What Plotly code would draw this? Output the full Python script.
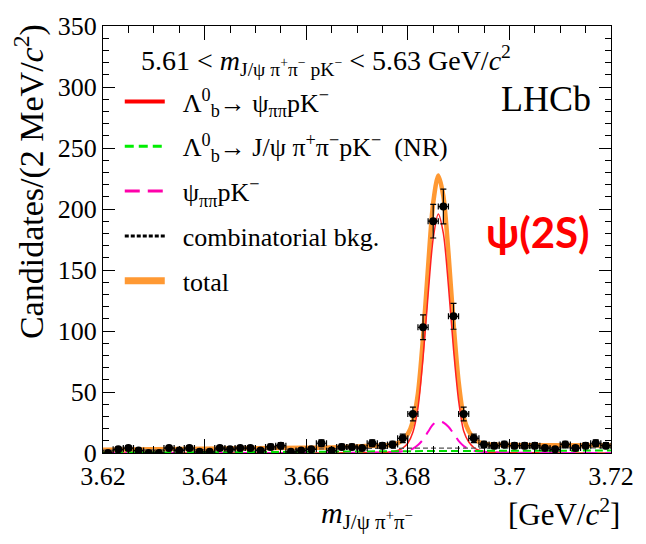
import numpy as np
import plotly.graph_objects as go

# ---------------- data ----------------
bin_centers = [3.621, 3.623, 3.625, 3.627, 3.629, 3.631, 3.633, 3.635, 3.637, 3.639,
               3.641, 3.643, 3.645, 3.647, 3.649, 3.651, 3.653, 3.655, 3.657, 3.659,
               3.661, 3.663, 3.665, 3.667, 3.669, 3.671, 3.673, 3.675, 3.677, 3.679,
               3.681, 3.683, 3.685, 3.687, 3.689, 3.691, 3.693, 3.695, 3.697, 3.699,
               3.701, 3.703, 3.705, 3.707, 3.709, 3.711, 3.713, 3.715, 3.717, 3.719]
counts = [0, 3, 4, 2, 0, 0, 4, 2, 4, 1,
          1, 4, 3, 4, 4, 2, 5, 6, 1, 2,
          3, 8, 2, 5, 5, 4, 8, 6, 7, 12,
          32, 103, 190, 202, 112, 32, 12, 7, 6, 7,
          6, 6, 6, 4, 3, 7, 4, 6, 8, 6]
bin_half_width = 0.001

# fit curves, read at these masses
curve_mass = [3.620, 3.630, 3.640, 3.650, 3.660, 3.665, 3.670, 3.674, 3.676, 3.678,
              3.679, 3.680, 3.681, 3.682, 3.683, 3.684, 3.685, 3.686, 3.687, 3.688,
              3.689, 3.690, 3.691, 3.692, 3.693, 3.694, 3.696, 3.698, 3.700, 3.705,
              3.710, 3.720]
signal_curve = [0, 0, 0, 0, 0.05, 0.1, 0.3, 0.5, 0.6, 2.0,
                4.0, 8.0, 17, 37, 78, 130, 176, 196, 180, 137,
                85, 43, 18, 9.0, 4.5, 2.2, 0.7, 0.5, 0.3, 0.2,
                0.1, 0.05]
psipipk_curve = [0, 0, 0, 0, 0.05, 0.1, 0.2, 0.4, 0.6, 0.9,
                 1.4, 2.2, 3.6, 6.5, 11, 17.5, 23.5, 26, 25, 21.5,
                 16, 10, 5.8, 3.2, 1.8, 1.2, 0.6, 0.4, 0.3, 0.2,
                 0.1, 0.05]
total_curve = [2.6, 3.0, 3.4, 3.85, 4.3, 4.55, 5.35, 6.0, 6.35, 8.15,
               10.75, 15.6, 26, 49, 94.5, 153, 205, 227.5, 210.5, 164,
               106.5, 58.6, 29.4, 17.8, 12.0, 9.0, 7.0, 6.7, 6.5, 6.4,
               6.3, 6.2]
bkg_mass = [3.62, 3.64, 3.66, 3.68, 3.70, 3.72]
comb_curve = [2.3, 2.8, 3.3, 3.9, 4.1, 4.2]
nr_curve = [0.3, 0.6, 1.0, 1.5, 1.8, 2.0]

x_tickvals = [3.62, 3.64, 3.66, 3.68, 3.70, 3.72]
x_ticktext = ["3.62", "3.64", "3.66", "3.68", "3.7", "3.72"]

legend_names = [
    "\u00a0\u00a0Λ<sup>0</sup><sub>b</sub>→ ψ<sub>ππ</sub>pK<sup>−</sup>",
    "\u00a0\u00a0Λ<sup>0</sup><sub>b</sub>→ J/ψ π<sup>+</sup>π<sup>−</sup>pK<sup>−</sup>  (NR)",
    "\u00a0\u00a0ψ<sub>ππ</sub>pK<sup>−</sup>",
    "\u00a0\u00a0combinatorial bkg.",
    "\u00a0\u00a0total",
]

SERIF = "Liberation Serif, Times New Roman, serif"

fig = go.Figure()

# curves
fig.add_trace(go.Scatter(x=curve_mass, y=total_curve, mode="lines", showlegend=False,
                         line=dict(color="#ff9933", width=4.5, shape="spline", smoothing=0.8)))
fig.add_trace(go.Scatter(x=curve_mass, y=signal_curve, mode="lines", showlegend=False,
                         line=dict(color="#ff2020", width=1.5, shape="spline", smoothing=0.8)))
fig.add_trace(go.Scatter(x=curve_mass, y=psipipk_curve, mode="lines", showlegend=False,
                         line=dict(color="#ff00cc", width=2, dash="14px,8px", shape="spline", smoothing=0.8)))
fig.add_trace(go.Scatter(x=bkg_mass, y=comb_curve, mode="lines", showlegend=False,
                         line=dict(color="#555555", width=1.3, dash="5px,3px", shape="spline")))
fig.add_trace(go.Scatter(x=bkg_mass, y=nr_curve, mode="lines", showlegend=False,
                         line=dict(color="#00dd00", width=2, dash="8px,4px", shape="spline")))

# data points
fig.add_trace(go.Scatter(
    x=bin_centers, y=counts, mode="markers", showlegend=False,
    marker=dict(color="black", size=8),
    error_y=dict(type="data", array=np.sqrt(counts).tolist(), color="black", thickness=1.2, width=3),
    error_x=dict(type="constant", value=bin_half_width, color="black", thickness=1.2, width=3),
))

# legend entries
legend_styles = [
    dict(color="#ff0000", width=4),
    dict(color="#00ee00", width=3, dash="9px,5px"),
    dict(color="#ff00aa", width=3, dash="15px,8px"),
    dict(color="black", width=3, dash="4px,2px"),
    dict(color="#ff9933", width=7),
]
for i, (nm, st) in enumerate(zip(legend_names, legend_styles)):
    fig.add_trace(go.Scatter(x=[None], y=[None], mode="lines", name=nm, line=st,
                             legendgroup="g%d" % i, showlegend=True))

fig.update_layout(
    width=646, height=544,
    margin=dict(l=103, r=28, t=17, b=91),
    paper_bgcolor="white", plot_bgcolor="white",
    font=dict(family=SERIF, size=26, color="black"),
    showlegend=True,
    legend=dict(x=0.033, y=0.878, xanchor="left", yanchor="top",
                bgcolor="rgba(0,0,0,0)", borderwidth=0,
                font=dict(family=SERIF, size=26, color="black"),
                itemwidth=40, traceorder="grouped", tracegroupgap=8),
    xaxis=dict(range=[3.62, 3.72], tickmode="array", tickvals=x_tickvals, ticktext=x_ticktext,
               ticks="inside", ticklen=14, tickwidth=1, tickcolor="black",
               showline=True, linecolor="black", linewidth=1, mirror="allticks",
               showgrid=False, zeroline=False,
               minor=dict(dtick=0.005, ticks="inside", ticklen=7, tickcolor="black", showgrid=False),
               tickfont=dict(family=SERIF, size=26)),
    yaxis=dict(range=[0, 350], dtick=50, ticks="inside", ticklen=12, tickwidth=1, tickcolor="black",
               showline=True, linecolor="black", linewidth=1, mirror="allticks",
               showgrid=False, zeroline=False,
               minor=dict(dtick=10, ticks="inside", ticklen=6, tickcolor="black", showgrid=False),
               tickfont=dict(family=SERIF, size=26)),
)

fig.add_annotation(xref="paper", yref="paper", x=-0.146, y=1.01, xanchor="center", yanchor="top",
                   text="Candidates/(2 MeV/<i>c</i><sup>2</sup>)", textangle=-90, showarrow=False,
                   font=dict(family=SERIF, size=34))
fig.add_annotation(xref="paper", yref="paper", x=0.52, y=-0.145, xanchor="center", yanchor="middle",
                   text="<i>m</i><sub>J/ψ π<sup>+</sup>π<sup>−</sup></sub>", showarrow=False,
                   font=dict(family=SERIF, size=30))
fig.add_annotation(xref="paper", yref="paper", x=1.022, y=-0.14, xanchor="right", yanchor="middle",
                   text="[GeV/<i>c</i><sup>2</sup>]", showarrow=False,
                   font=dict(family=SERIF, size=31))
fig.add_annotation(xref="paper", yref="paper", x=0.07, y=0.92, xanchor="left", yanchor="middle",
                   text="5.61 &lt; <i>m</i><sub>J/ψ π<sup>+</sup>π<sup>−</sup> pK<sup>−</sup></sub> &lt; 5.63 GeV/<i>c</i><sup>2</sup>",
                   showarrow=False, font=dict(family=SERIF, size=28))
fig.add_annotation(xref="paper", yref="paper", x=0.965, y=0.828, xanchor="right", yanchor="middle",
                   text="LHCb", showarrow=False, font=dict(family=SERIF, size=36))
fig.add_annotation(xref="paper", yref="paper", x=0.962, y=0.518, xanchor="right", yanchor="middle",
                   text="<b>ψ(2S)</b>", showarrow=False,
                   font=dict(family="Lato, Open Sans, sans-serif", size=42, color="#ff0000"))

fig.write_html("out.html")
